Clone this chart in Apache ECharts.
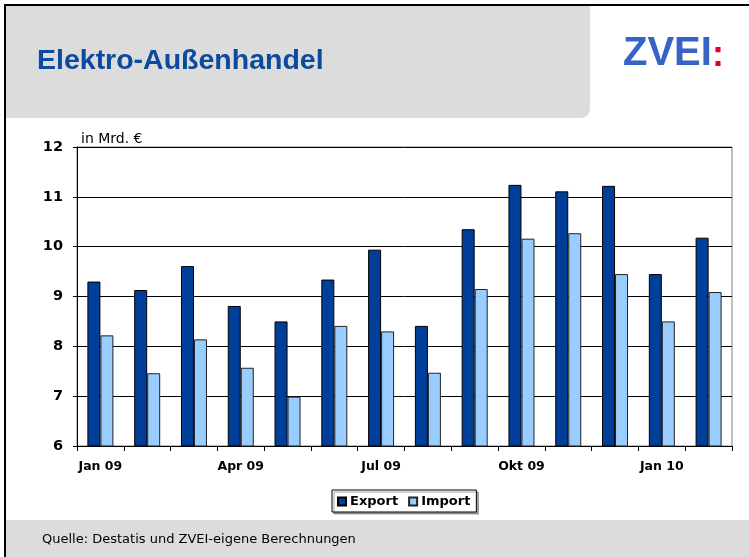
<!DOCTYPE html>
<html>
<head>
<meta charset="utf-8">
<script src="https://cdn.jsdelivr.net/npm/echarts@6/dist/echarts.min.js"></script>
<style>
  html, body { margin: 0; padding: 0; background: #fff; }
  #chart { width: 749px; height: 557px; }
</style>
</head>
<body>
<div id="chart"></div>
<script>
// Elektro-Außenhandel, Monatswerte in Mrd. €
var months = ["Jan 09", "Feb 09", "Mrz 09", "Apr 09", "Mai 09", "Jun 09", "Jul 09",
  "Aug 09", "Sep 09", "Okt 09", "Nov 09", "Dez 09", "Jan 10", "Feb 10"];
var exportVals = [9.3, 9.13, 9.61, 8.81, 8.5, 9.34, 9.94, 8.41, 10.35, 11.24, 11.11, 11.22, 9.45, 10.18];
var importVals = [8.22, 7.46, 8.14, 7.57, 6.99, 8.41, 8.3, 7.47, 9.15, 10.16, 10.27, 9.45, 8.5, 9.09];
var yTicks = [6, 7, 8, 9, 10, 11, 12];

var font = "Liberation Sans, Arial, sans-serif";
var wide = "DejaVu Sans, Verdana, sans-serif";
var chart = echarts.init(document.getElementById("chart"));

chart.setOption({
  animation: false,
  textStyle: { fontFamily: font },
  graphic: [
    // Rahmen
    { type: "rect", shape: { x: 4, y: 4, width: 2, height: 553 }, style: { fill: "#000" } },
    { type: "rect", shape: { x: 4, y: 4, width: 745, height: 2 }, style: { fill: "#000" } },
    // Kopfbereich
    { type: "rect", shape: { x: 6, y: 6, width: 584, height: 112, r: [0, 0, 9, 0] }, style: { fill: "#dcdcdc" } },
    {
      type: "text", x: 37, y: 61,
      style: { text: "Elektro-Außenhandel", fill: "#0b4a9e", font: "bold 28.5px " + font, verticalAlign: "middle" }
    },
    {
      type: "text", x: 623, y: 54,
      style: {
        text: "{a|ZVEI}{b|:}",
        verticalAlign: "middle",
        rich: {
          a: { fill: "#3763c6", font: "bold 40px " + font },
          b: { fill: "#e4002b", font: "bold 36px " + font, padding: [4, 0, 0, 0] }
        }
      }
    },
    // Fußzeile
    { type: "rect", shape: { x: 6, y: 520, width: 743, height: 37 }, style: { fill: "#dcdcdc" } },
    {
      type: "text", x: 42, y: 540,
      style: { text: "Quelle: Destatis und ZVEI-eigene Berechnungen", fill: "#000", font: "13px " + wide, verticalAlign: "middle" }
    }
  ],
  grid: {
    left: 77, right: 17, top: 147, bottom: 111,
    show: true, borderColor: "#808080", borderWidth: 1
  },
  legend: {
    top: 490, left: 332,
    data: ["Export", "Import"],
    itemWidth: 8, itemHeight: 8, itemGap: 10,
    icon: "rect",
    padding: [5, 6, 4, 5],
    borderColor: "#000", borderWidth: 1,
    backgroundColor: "#fff",
    shadowColor: "rgba(0,0,0,0.35)", shadowOffsetX: 2, shadowOffsetY: 2, shadowBlur: 0,
    textStyle: { fontFamily: wide, fontWeight: "bold", fontSize: 13, color: "#000", padding: [0, 0, 0, -1] }
  },
  xAxis: {
    type: "category",
    data: months,
    boundaryGap: true,
    axisLine: { lineStyle: { color: "#000", width: 1 } },
    axisTick: { show: true, interval: 0, length: 5, lineStyle: { color: "#000" } },
    axisLabel: {
      interval: 2, margin: 14,
      fontFamily: wide, fontWeight: "bold", fontSize: 12.5, color: "#000"
    },
    splitLine: { show: false }
  },
  yAxis: {
    type: "value",
    min: yTicks[0], max: yTicks[yTicks.length - 1], interval: 1,
    name: "in Mrd. €",
    nameLocation: "end",
    nameGap: 1,
    nameTextStyle: { fontFamily: wide, align: "left", verticalAlign: "bottom", fontSize: 14, color: "#000", padding: [0, 0, 0, 4] },
    axisLine: { show: true, lineStyle: { color: "#000", width: 1 } },
    axisTick: { show: true, length: 4, lineStyle: { color: "#000" } },
    axisLabel: { margin: 14, fontFamily: wide, fontWeight: "bold", fontSize: 14.5, color: "#000" },
    splitLine: { show: true, lineStyle: { color: "#000", width: 1 } }
  },
  series: [
    {
      name: "Export", type: "bar", data: exportVals,
      barWidth: 13, barGap: "0%",
      itemStyle: { color: "#003f99", borderColor: "#000", borderWidth: 1 }
    },
    {
      name: "Import", type: "bar", data: importVals,
      barWidth: 13,
      itemStyle: { color: "#99ccff", borderColor: "#222", borderWidth: 1 }
    }
  ]
});
</script>
</body>
</html>
